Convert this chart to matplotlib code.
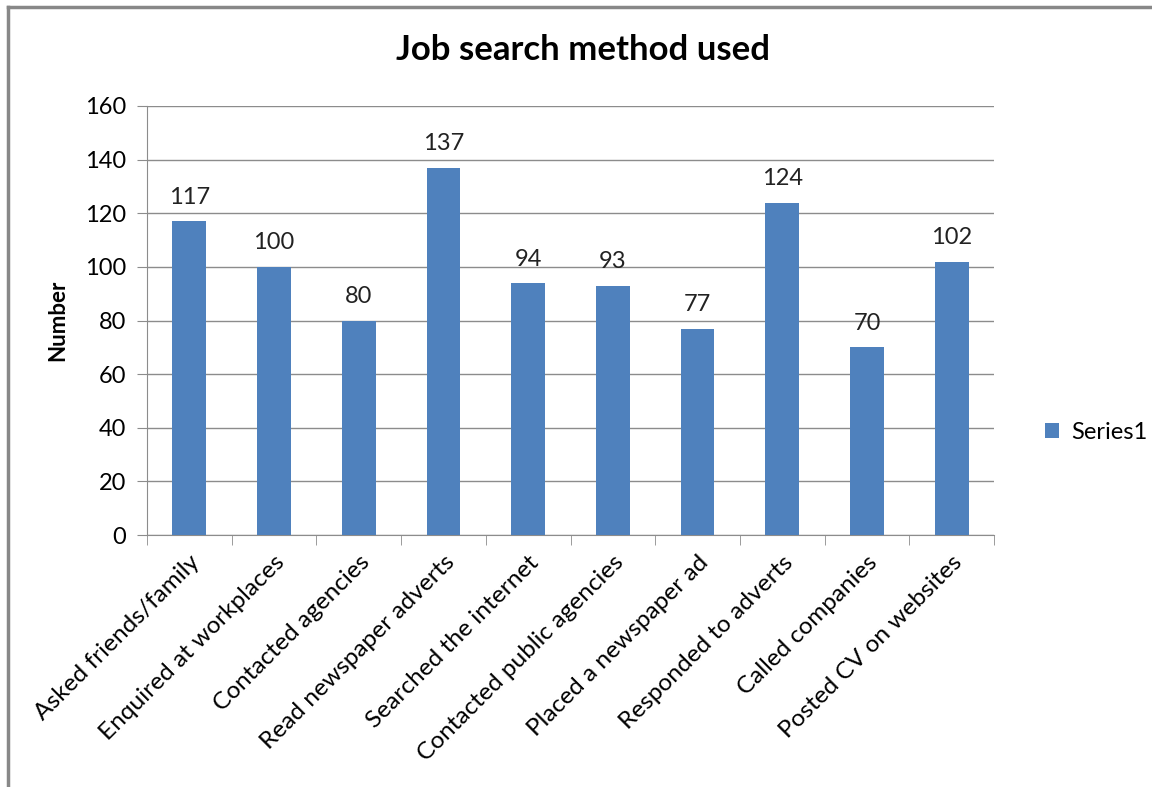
import matplotlib.pyplot as plt
from matplotlib.lines import Line2D
import numpy as np

methods = ['Asked friends/family', 'Enquired at workplaces', 'Contacted agencies',
           'Read newspaper adverts', 'Searched the internet', 'Contacted public agencies',
           'Placed a newspaper ad', 'Responded to adverts', 'Called companies',
           'Posted CV on websites']
counts = [117, 100, 80, 137, 94, 93, 77, 124, 70, 102]
yticks = [0, 20, 40, 60, 80, 100, 120, 140, 160]

plt.rcParams['font.family'] = ['Lato', 'DejaVu Sans']

fig = plt.figure(figsize=(11.52, 7.87), dpi=100)
ax = fig.add_axes([147/1152, 1-535/787, (994-147)/1152, (535-106)/787])

x = np.arange(len(methods))
bars = ax.bar(x, counts, width=0.4, color='#4F81BD', label='Series1', zorder=3)
for xi, v in zip(x, counts):
    ax.text(xi, v + 5, str(v), ha='center', va='bottom', fontsize=17, color='#222222')

ax.set_xlim(-0.5, len(methods) - 0.5)
ax.set_ylim(0, 160)
ax.set_yticks(yticks)
ax.set_yticklabels([str(t) for t in yticks], fontsize=17)
ax.yaxis.grid(True, color='#8c8c8c', linewidth=1, zorder=0)
ax.tick_params(axis='y', length=7, color='#8c8c8c', pad=8)

ax.set_xticks(x)
ax.set_xticklabels(methods, rotation=45, ha='right', rotation_mode='anchor', fontsize=17.6)
ax.set_xticks(np.arange(len(methods) + 1) - 0.5, minor=True)
ax.tick_params(axis='x', which='major', length=0, pad=12)
ax.tick_params(axis='x', which='minor', length=7, color='#8c8c8c')

for s in ['top', 'right']:
    ax.spines[s].set_visible(False)
for s in ['left', 'bottom']:
    ax.spines[s].set_color('#8c8c8c')

ax.set_ylabel('Number', fontsize=16, fontweight='bold', labelpad=12)
fig.text(583/1152, 1-50/787, 'Job search method used', ha='center', va='center',
         fontsize=25, fontweight='bold')

ax.legend(loc='center left', bbox_to_anchor=(1.035, 0.24), frameon=False, fontsize=17,
          handlelength=0.6, handleheight=0.6, handletextpad=0.5)

fig.add_artist(Line2D([8/1152, 8/1152], [0, 1-7/787], color='#888888', linewidth=2.5))
fig.add_artist(Line2D([8/1152, 1], [1-7/787, 1-7/787], color='#888888', linewidth=2.5))

fig.savefig('out.png', dpi=100)
